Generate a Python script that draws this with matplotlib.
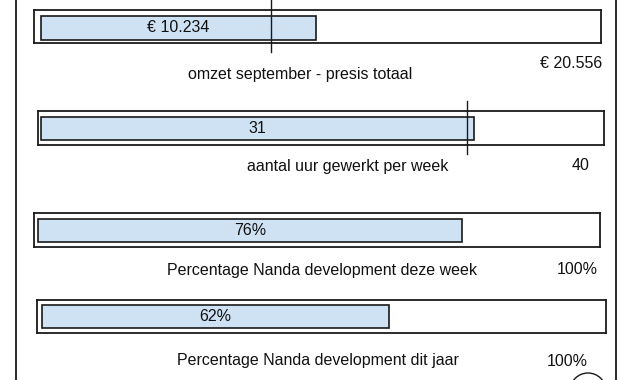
import matplotlib.pyplot as plt
from matplotlib.lines import Line2D
from matplotlib.patches import Ellipse

plt.rcParams["font.family"] = ["Liberation Sans", "DejaVu Sans"]

# data
values = [10234, 31, 76, 62]
maxima = [20556, 40, 100, 100]
value_labels = ["€ 10.234", "31", "76%", "62%"]
max_labels = ["€ 20.556", "40", "100%", "100%"]
titles = ["omzet september - presis totaal", "aantal uur gewerkt per week",
          "Percentage Nanda development deze week", "Percentage Nanda development dit jaar"]
markers = [8550, 30.5, None, None]

W, H = 632, 380
fig = plt.figure(figsize=(W / 100, H / 100), dpi=100)

# layout in pixels: outer box (x0, x1, y0, y1), bar top/bottom inside box
boxes = [(34, 601, 10, 43), (38, 604, 111, 145), (34, 600, 213, 247), (37, 606, 300, 333)]
bar_pad = [(7, 7), (3, 4), (4, 4), (5, 4)]
bar_y = [(16, 40), (117, 140), (219, 242), (305, 328)]
title_pos = [(300, 74), (348, 166), (322, 270), (318, 361)]
max_pos = [(602, 63), (589, 166), (598, 270), (588, 361)]

bar_color = "#cfe2f3"
edge = "#1a1a1a"
txt = "#111111"
fs = 11.5

for i in range(4):
    x0, x1, y0, y1 = boxes[i]
    ax = fig.add_axes([x0 / W, 1 - y1 / H, (x1 - x0) / W, (y1 - y0) / H])
    pl, pr = bar_pad[i]
    inner = (x1 - x0) - pl - pr
    m = maxima[i]
    ax.set_xlim(-pl * m / inner, m + pr * m / inner)
    ax.set_ylim(0, 1)
    by0, by1 = bar_y[i]
    bh = (by1 - by0) / (y1 - y0)
    bc = (y1 - (by0 + by1) / 2) / (y1 - y0)
    ax.barh(bc, values[i], height=bh, left=0, color=bar_color,
            edgecolor=edge, linewidth=1.2)
    ax.text(values[i] / 2, bc, value_labels[i], ha="center", va="center",
            fontsize=fs, color=txt)
    if markers[i] is not None:
        ax.plot([markers[i], markers[i]], [-0.27, 1.3], color=edge,
                linewidth=1.0, clip_on=False)
    ax.set_xticks([])
    ax.set_yticks([])
    for s in ax.spines.values():
        s.set_linewidth(1.3)
        s.set_color(edge)

    tx, ty = title_pos[i]
    fig.text(tx / W, 1 - ty / H, titles[i], ha="center", va="center",
             fontsize=fs, color=txt)
    mx, my = max_pos[i]
    fig.text(mx / W, 1 - my / H, max_labels[i], ha="right", va="center",
             fontsize=fs, color=txt)

# outer frame lines
for xp in [16, 616]:
    fig.add_artist(Line2D([xp / W, xp / W], [0, 1], color=edge, linewidth=1.3))

# partial circle at the bottom right
fig.add_artist(Ellipse((588 / W, 1 - 391 / H), 36 / W, 36 / H, fill=False,
                       edgecolor=edge, linewidth=1.0))

fig.savefig("out.png", dpi=100)
